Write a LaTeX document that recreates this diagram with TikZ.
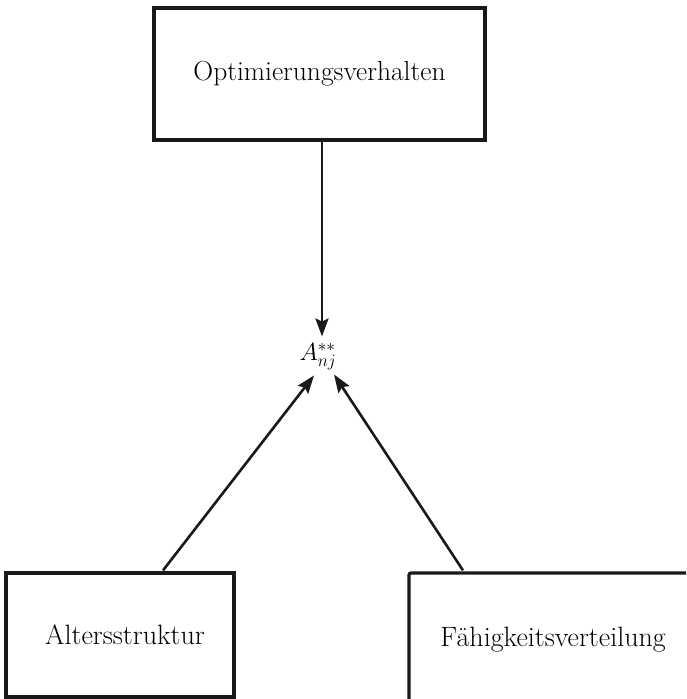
\documentclass[tikz,border=0pt]{standalone}
\usetikzlibrary{arrows.meta,calc}
\begin{document}
\begin{tikzpicture}[x=1pt,y=1pt,
  box/.style={draw=black!90, line width=3.2pt, rectangle, inner sep=0pt,
    font=\fontsize{28}{33}\selectfont},
  conn/.style={line width=2.6pt, draw=black!90, -{Stealth[length=18pt,width=13pt,inset=3pt]}}]
\useasboundingbox (0,0) rectangle (686,-699);
\begin{scope}
\clip (0,0) rectangle (686,-699);
\node[box, minimum width=331pt, minimum height=132pt, font=\fontsize{27.5}{33}\selectfont] (opt) at (319.5,-74) {Optimierungsverhalten};
\node[box, minimum width=228pt, minimum height=124pt, text width=218pt, align=center, xshift=0pt] (alt) at (120,-635) {\hspace*{10pt}Altersstruktur};
\node[box, minimum width=288pt, minimum height=134pt, rounded corners=2pt] (fae) at (553,-640) {F\"ahigkeitsverteilung};
\node[inner sep=0pt, font=\fontsize{25}{30}\selectfont] (A) at (318,-357) {$A_{nj}^{**}$};
\end{scope}
\draw[conn] ([xshift=2.5pt]opt.south) -- ([xshift=4pt,yshift=7pt]A.north);
\draw[conn] ([xshift=43pt,yshift=1pt]alt.north) -- ([xshift=-4pt,yshift=-5pt]A.south);
\draw[conn] ([xshift=-90pt,yshift=1pt]fae.north) -- ([xshift=16pt,yshift=-4pt]A.south);
\end{tikzpicture}
\end{document}
